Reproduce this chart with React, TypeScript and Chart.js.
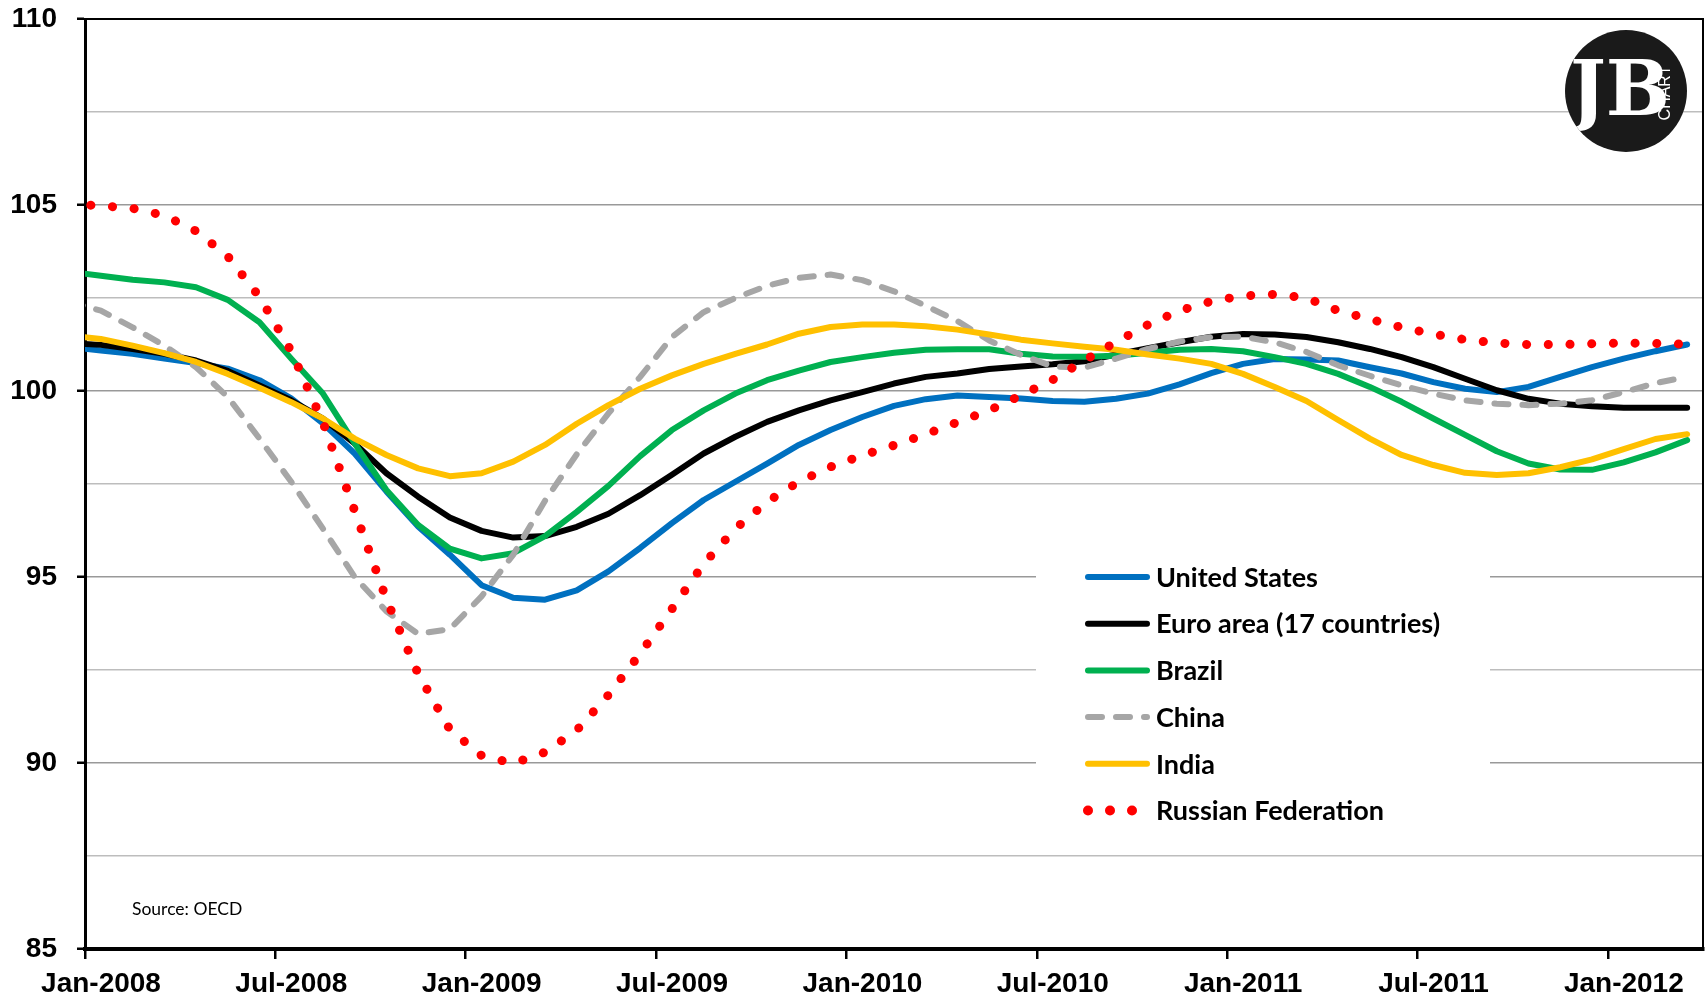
import React, { useEffect, useRef } from 'react';
import { Chart, registerables } from 'chart.js';

Chart.register(...registerables);

// Months plotted (data sits mid-month; the Dec-2007 point is clipped at the axis)
const monthLabels = [
  'Dec-2007',
  'Jan-2008', 'Feb-2008', 'Mar-2008', 'Apr-2008', 'May-2008', 'Jun-2008', 'Jul-2008', 'Aug-2008', 'Sep-2008', 'Oct-2008', 'Nov-2008', 'Dec-2008',
  'Jan-2009', 'Feb-2009', 'Mar-2009', 'Apr-2009', 'May-2009', 'Jun-2009', 'Jul-2009', 'Aug-2009', 'Sep-2009', 'Oct-2009', 'Nov-2009', 'Dec-2009',
  'Jan-2010', 'Feb-2010', 'Mar-2010', 'Apr-2010', 'May-2010', 'Jun-2010', 'Jul-2010', 'Aug-2010', 'Sep-2010', 'Oct-2010', 'Nov-2010', 'Dec-2010',
  'Jan-2011', 'Feb-2011', 'Mar-2011', 'Apr-2011', 'May-2011', 'Jun-2011', 'Jul-2011', 'Aug-2011', 'Sep-2011', 'Oct-2011', 'Nov-2011', 'Dec-2011',
  'Jan-2012', 'Feb-2012', 'Mar-2012',
];

const xTickLabels = ['Jan-2008', 'Jul-2008', 'Jan-2009', 'Jul-2009', 'Jan-2010', 'Jul-2010', 'Jan-2011', 'Jul-2011', 'Jan-2012'];
const yTickValues = [85, 87.5, 90, 92.5, 95, 97.5, 100, 102.5, 105, 107.5, 110];

const unitedStates = [
  101.18,
  101.09, 101.0, 100.87, 100.75, 100.6, 100.29, 99.8, 99.13, 98.32, 97.3, 96.36, 95.6,
  94.78, 94.44, 94.39, 94.64, 95.15, 95.78, 96.45, 97.07, 97.56, 98.05, 98.55, 98.95,
  99.3, 99.6, 99.78, 99.88, 99.84, 99.8, 99.73, 99.71, 99.79, 99.93, 100.18, 100.48,
  100.73, 100.86, 100.85, 100.82, 100.64, 100.47, 100.24, 100.06, 99.97, 100.11, 100.38, 100.64,
  100.87, 101.07, 101.25,
];

const euroArea = [
  101.29,
  101.24, 101.13, 101.0, 100.82, 100.54, 100.15, 99.75, 99.26, 98.59, 97.79, 97.16, 96.6,
  96.24, 96.06, 96.1, 96.35, 96.7, 97.2, 97.75, 98.32, 98.77, 99.17, 99.48, 99.75,
  99.97, 100.2, 100.38, 100.47, 100.59, 100.66, 100.72, 100.8, 100.98, 101.15, 101.31, 101.46,
  101.53, 101.52, 101.45, 101.31, 101.13, 100.91, 100.64, 100.33, 100.02, 99.79, 99.66, 99.59,
  99.55, 99.55, 99.55,
];

const brazil = [
  103.2,
  103.1, 102.99, 102.92, 102.79, 102.45, 101.85, 100.87, 99.93, 98.59, 97.34, 96.4, 95.76,
  95.5, 95.64, 96.1, 96.75, 97.45, 98.25, 98.95, 99.48, 99.93, 100.29, 100.55, 100.78,
  100.91, 101.03, 101.11, 101.12, 101.12, 101.0, 100.93, 100.92, 100.95, 101.03, 101.11, 101.13,
  101.07, 100.91, 100.73, 100.46, 100.11, 99.71, 99.26, 98.82, 98.38, 98.05, 97.89, 97.88,
  98.08, 98.35, 98.68,
];

const china = [
  102.4,
  102.16, 101.71, 101.22, 100.64, 99.84, 98.72, 97.56, 96.3, 95.0, 94.08, 93.47, 93.6,
  94.48, 95.6, 97.05, 98.3, 99.4, 100.38, 101.45, 102.12, 102.5, 102.83, 103.04, 103.13,
  102.98, 102.68, 102.29, 101.88, 101.36, 100.97, 100.66, 100.63, 100.87, 101.13, 101.33, 101.45,
  101.46, 101.31, 101.05, 100.69, 100.41, 100.15, 99.93, 99.75, 99.66, 99.62, 99.66, 99.75,
  99.97, 100.21, 100.38,
];

const india = [
  101.49,
  101.4, 101.22, 101.02, 100.78, 100.46, 100.09, 99.7, 99.26, 98.72, 98.28, 97.92, 97.71,
  97.79, 98.1, 98.55, 99.12, 99.62, 100.06, 100.42, 100.73, 101.0, 101.25, 101.54, 101.72,
  101.79, 101.79, 101.74, 101.65, 101.52, 101.38, 101.28, 101.19, 101.11, 100.98, 100.87, 100.73,
  100.46, 100.11, 99.73, 99.22, 98.72, 98.28, 98.01, 97.8, 97.74, 97.79, 97.95, 98.16,
  98.44, 98.71, 98.84,
];

const russia = [
  105.03,
  104.98, 104.91, 104.72, 104.3, 103.62, 102.53, 101.07, 99.16, 96.78, 94.4, 92.4, 90.9,
  90.2, 89.99, 90.29, 90.88, 91.83, 92.94, 94.14, 95.35, 96.3, 97.02, 97.56, 97.96,
  98.27, 98.54, 98.84, 99.16, 99.48, 99.88, 100.3, 100.82, 101.32, 101.78, 102.16, 102.41,
  102.56, 102.6, 102.5, 102.16, 101.93, 101.71, 101.53, 101.38, 101.29, 101.25, 101.25, 101.27,
  101.29, 101.28, 101.26,
];

const seriesNames = ['United States', 'Euro area (17 countries)', 'Brazil', 'China', 'India', 'Russian Federation'];
const seriesColors = ['#0070C0', '#000000', '#00B050', '#A6A6A6', '#FFC000', '#FF0000'];

// month index -> axis position (Jan-2008 boundary = 0, points at mid-month)
const toPoints = (values: number[]) =>
  values.map((v, i) => ({ x: i - 1 + 0.5, y: v, month: monthLabels[i] }));

const legendPlugin = {
  id: 'boxLegend',
  beforeDatasetsDraw(chart: any) {
    const { ctx } = chart;
    ctx.save();
    ctx.fillStyle = '#ffffff';
    ctx.fillRect(1036, 545, 454, 292);
    const x0 = 1088;
    const x1 = 1147;
    chart.data.datasets.forEach((ds: any, k: number) => {
      const y = 577 + k * 46.7;
      ctx.save();
      ctx.strokeStyle = ds.borderColor;
      ctx.lineCap = 'round';
      if (ds.legendKind === 'dots') {
        ctx.fillStyle = ds.borderColor;
        [x0, x0 + 22, x0 + 44].forEach((cx) => {
          ctx.beginPath();
          ctx.arc(cx, y, 5, 0, Math.PI * 2);
          ctx.fill();
        });
      } else {
        ctx.lineWidth = 6;
        if (ds.legendKind === 'dash') ctx.setLineDash([14, 14]);
        ctx.beginPath();
        ctx.moveTo(x0, y);
        ctx.lineTo(x1, y);
        ctx.stroke();
      }
      ctx.restore();
      ctx.fillStyle = '#000';
      ctx.font = 'bold 27px Lato, "Noto Sans", sans-serif';
      ctx.textAlign = 'left';
      ctx.textBaseline = 'middle';
      ctx.fillText(ds.label, 1156, y + 1);
    });
    ctx.restore();
  },
  afterDraw(chart: any) {
    const { ctx, chartArea } = chart;
    ctx.save();
    // top & right frame
    ctx.strokeStyle = '#000';
    ctx.lineWidth = 2;
    ctx.beginPath();
    ctx.moveTo(chartArea.left, chartArea.top);
    ctx.lineTo(chartArea.right, chartArea.top);
    ctx.lineTo(chartArea.right, chartArea.bottom);
    ctx.stroke();

    // source note
    ctx.fillStyle = '#000';
    ctx.font = '17.5px Lato, "Noto Sans", sans-serif';
    ctx.textAlign = 'left';
    ctx.textBaseline = 'middle';
    ctx.fillText('Source: OECD', 132, 909);

    // logo
    const cx = 1626;
    const cy = 91;
    const r = 61;
    ctx.fillStyle = '#1a1a1a';
    ctx.beginPath();
    ctx.arc(cx, cy, r, 0, Math.PI * 2);
    ctx.fill();
    ctx.save();
    ctx.beginPath();
    ctx.arc(cx, cy, r, 0, Math.PI * 2);
    ctx.clip();
    ctx.fillStyle = '#ffffff';
    ctx.font = 'bold 76px "DejaVu Serif", serif';
    ctx.textAlign = 'center';
    ctx.textBaseline = 'middle';
    ctx.fillText('JB', cx - 6, cy + 4);
    ctx.translate(cx + 40, cy + 2);
    ctx.rotate(-Math.PI / 2);
    ctx.font = '16px "Liberation Sans", Arial, sans-serif';
    ctx.fillText('CHART', 0, 0);
    ctx.restore();
    ctx.restore();
  },
};

export default function App() {
  const canvasRef = useRef<HTMLCanvasElement | null>(null);

  useEffect(() => {
    if (!canvasRef.current) return;
    const axisFont = { family: '"Liberation Sans", Arial, sans-serif', size: 28, weight: 'bold' as const };
    const lineBase = {
      pointRadius: 0,
      pointHoverRadius: 0,
      tension: 0,
      borderJoinStyle: 'round' as const,
      borderCapStyle: 'round' as const,
      fill: false,
      clip: { left: 0, top: 10, right: 10, bottom: 10 },
    };
    const allSeries = [unitedStates, euroArea, brazil, china, india, russia];
    const datasets = allSeries.map((values, k) => {
      const ds: any = {
        ...lineBase,
        label: seriesNames[k],
        data: toPoints(values),
        borderColor: seriesColors[k],
        backgroundColor: seriesColors[k],
        borderWidth: 6,
        order: allSeries.length - k,
        legendKind: 'solid',
      };
      if (k === 3) {
        ds.borderDash = [14, 14];
        ds.legendKind = 'dash';
      }
      if (k === 5) {
        ds.borderDash = [0.1, 21.6];
        ds.borderWidth = 9;
        ds.legendKind = 'dots';
      }
      return ds;
    });

    const chart = new Chart(canvasRef.current, {
      type: 'line',
      data: { datasets },
      options: {
        animation: false,
        responsive: true,
        maintainAspectRatio: false,
        parsing: false as any,
        normalized: true,
        layout: { padding: { top: 19, right: 2, left: 0, bottom: 0 } },
        plugins: {
          legend: { display: false },
          tooltip: { enabled: false },
        },
        scales: {
          x: {
            type: 'linear',
            min: 0,
            max: monthLabels.length - 1,
            afterBuildTicks: (scale: any) => {
              scale.ticks = xTickLabels.map((_, k) => ({ value: k * 6 }));
            },
            afterFit: (scale: any) => {
              scale.height = 47;
              scale.paddingLeft = 0;
              scale.paddingRight = 0;
            },
            ticks: {
              autoSkip: false,
              maxRotation: 0,
              minRotation: 0,
              labelOffset: 16,
              padding: 8,
              color: '#000',
              font: axisFont,
              callback: (value: any) => xTickLabels[Math.round(Number(value) / 6)] ?? '',
            },
            grid: {
              drawOnChartArea: false,
              drawTicks: true,
              tickLength: 10,
              color: '#000',
              lineWidth: 2.5,
            },
            border: { color: '#000', width: 4 },
          },
          y: {
            type: 'linear',
            min: 85,
            max: 110,
            afterBuildTicks: (scale: any) => {
              scale.ticks = yTickValues.map((v) => ({ value: v }));
            },
            afterFit: (scale: any) => {
              scale.width = 85;
              scale.paddingTop = 0;
              scale.paddingBottom = 0;
            },
            ticks: {
              autoSkip: false,
              padding: 20,
              color: '#000',
              font: axisFont,
              callback: (value: any) => (Number(value) % 5 === 0 ? String(value) : ''),
            },
            grid: {
              drawTicks: true,
              tickLength: 8,
              lineWidth: 1.5,
              color: (c: any) => (c.tick && c.tick.value % 5 === 0 ? '#999999' : '#bdbdbd'),
              tickColor: (c: any) => (c.tick && c.tick.value % 5 === 0 ? '#000000' : 'rgba(0,0,0,0)'),
              tickWidth: 2.5,
            },
            border: { color: '#000', width: 3 },
          },
        },
      },
      plugins: [legendPlugin],
    });
    return () => chart.destroy();
  }, []);

  return (
    <div style={{ position: 'absolute', left: 0, top: 0, width: 1705, height: 996, background: '#fff' }}>
      <canvas ref={canvasRef} />
    </div>
  );
}
